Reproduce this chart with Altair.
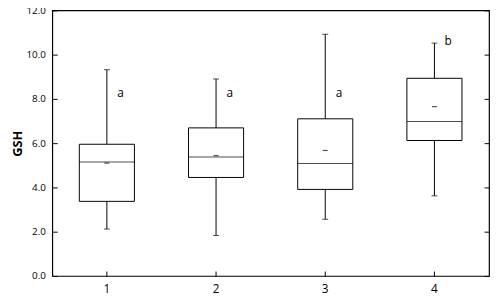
import altair as alt
import pandas as pd

groups = ["1", "2", "3", "4"]
whisker_low = [2.12, 1.83, 2.56, 3.62]
q1 = [3.37, 4.45, 3.91, 6.12]
median = [5.15, 5.37, 5.08, 6.98]
q3 = [5.95, 6.69, 7.10, 8.93]
whisker_high = [9.32, 8.90, 10.92, 10.52]
mean = [5.10, 5.44, 5.67, 7.65]
letters = ["a", "a", "a", "b"]
letter_y = [8.25, 8.25, 8.25, 10.6]

df = pd.DataFrame({
    "grp": groups, "lo": whisker_low, "q1": q1, "med": median, "q3": q3,
    "hi": whisker_high, "mean": mean, "letter": letters, "ly": letter_y,
})

FONT = "Open Sans"
ydom = [0, 12]

xenc = alt.X("grp:N", sort=groups, title=None,
             scale=alt.Scale(paddingInner=0, paddingOuter=0),
             axis=alt.Axis(labelAngle=0, domain=False, offset=-5, tickSize=5,
                           tickColor="black", labelPadding=8, labelFontSize=12,
                           labelFont=FONT, labelColor="black"))

def Y(field):
    return alt.Y(field, scale=alt.Scale(domain=ydom), title="GSH",
                 axis=alt.Axis(values=[0, 2, 4, 6, 8, 10, 12], format=".1f",
                               domain=False, offset=-5, tickSize=5, tickColor="black",
                               labelPadding=7, labelFontSize=10, labelFont=FONT,
                               labelColor="black", grid=False,
                               titleFont=FONT, titleFontSize=13, titleFontWeight="bold",
                               titleColor="black", titlePadding=1))

base = alt.Chart(df)

whisk = base.mark_rule(color="black", strokeWidth=1).encode(x=xenc, y=Y("lo:Q"), y2="hi:Q")
box = base.mark_bar(size=56, fill="white", stroke="black", strokeWidth=1).encode(
    x=xenc, y=Y("q1:Q"), y2="q3:Q")
med = base.mark_tick(size=56, thickness=1, color="black").encode(x=xenc, y=Y("med:Q"))
cap_hi = base.mark_tick(size=6, thickness=1, color="black").encode(x=xenc, y=Y("hi:Q"))
cap_lo = base.mark_tick(size=6, thickness=1, color="black").encode(x=xenc, y=Y("lo:Q"))
mn = base.mark_tick(size=5, thickness=1.2, color="black").encode(x=xenc, y=Y("mean:Q"))
txt = base.mark_text(dx=14, fontSize=12, font=FONT, color="black").encode(
    x=xenc, y=Y("ly:Q"), text="letter:N")

main = alt.layer(whisk, box, med, cap_hi, cap_lo, mn, txt)

right = base.mark_tick(opacity=0).encode(
    x=xenc,
    y=alt.Y("med:Q", scale=alt.Scale(domain=ydom), title=None,
            axis=alt.Axis(orient="right", values=[0, 2, 4, 6, 8, 10, 12], labels=False,
                          domain=False, offset=-5, tickSize=5, tickColor="black", grid=False)))

chart = alt.layer(main, right).resolve_scale(y="independent").properties(
    width=444, height=270,
    background="white",
    autosize=alt.AutoSizeParams(type="none"),
    padding={"left": 45, "top": 0, "right": 2, "bottom": 19},
).configure_view(stroke="black", strokeWidth=1.2)

chart.save("out.html", embed_options={"renderer": "svg", "actions": False})
